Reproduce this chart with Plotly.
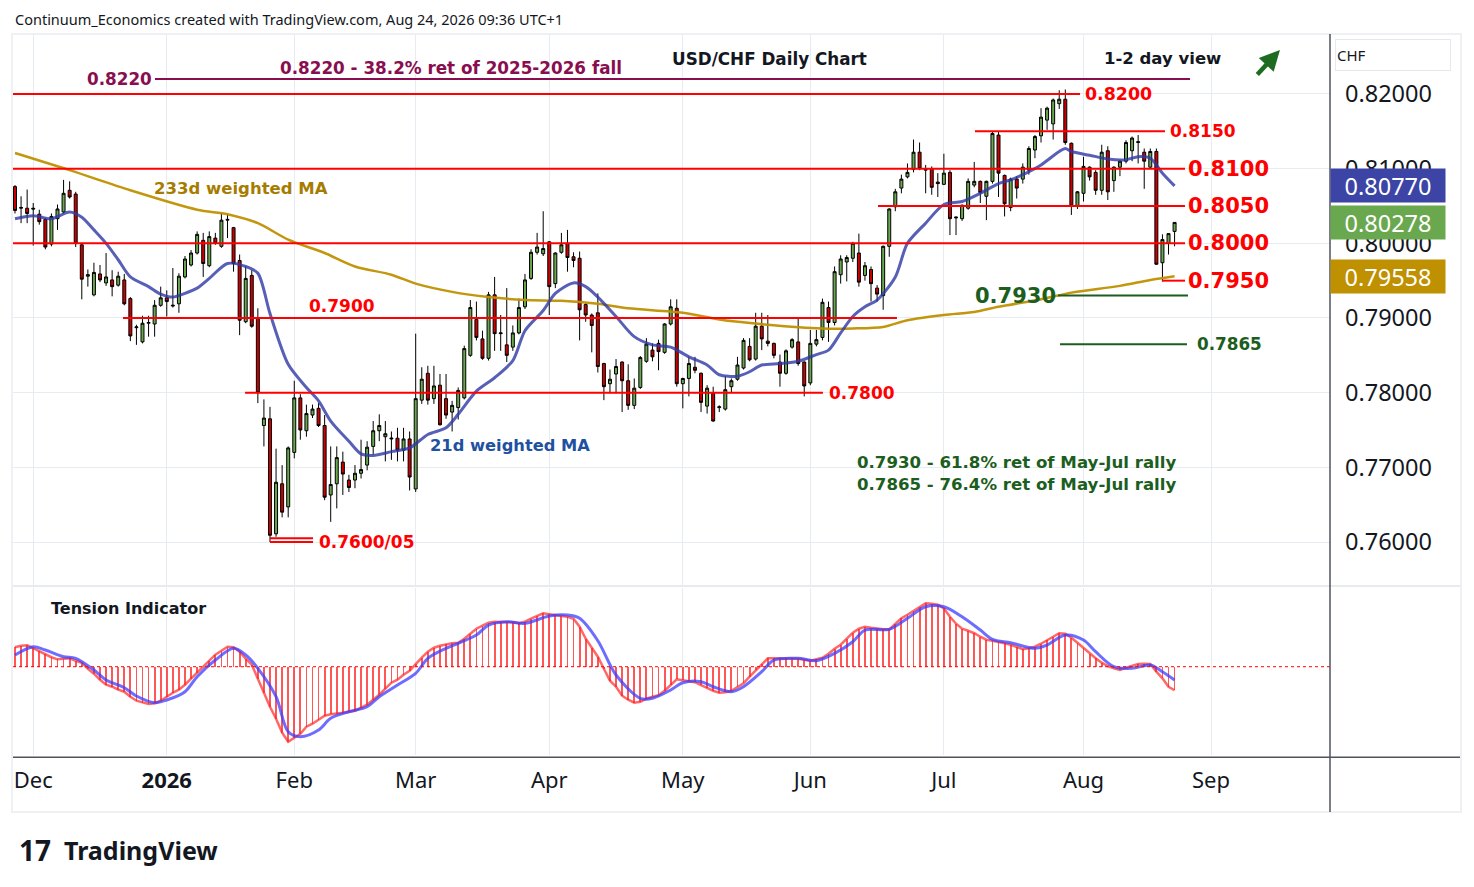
import pandas as pd
import plotly.graph_objects as go

# === Data ===
HOLIDAYS = ["2025-12-25", "2026-01-01"]

OPEN = [
    .8076, .8047, .8047, .8047, .8039, .8032, .7999, .8033, .8042, .8071,
    .8066, .7998, .7956, .7931, .7959, .7947, .7951, .7944, .7951, .7926,
    .7887, .7868, .7893, .7892, .7917, .7927, .7916, .7919, .7955, .7971,
    .7987, .8004, .7970, .8007, .7996, .8031, .8021, .7977, .7895, .7957,
    .7900, .7756, .7765, .7611, .7678, .7647, .7720, .7793, .7749, .7770,
    .7779, .7756, .7663, .7678, .7707, .7683, .7683, .7692, .7703, .7728,
    .7749, .7741, .7738, .7739, .7723, .7738, .7671, .7790, .7826, .7792,
    .7810, .7792, .7774, .7780, .7793, .7850, .7898, .7872, .7846, .7931,
    .7879, .7864, .7861, .7880, .7915, .7953, .7988, .7986, .8002, .7946,
    .7988, .8000, .7982, .7980, .7918, .7904, .7907, .7839, .7812, .7825,
    .7841, .7816, .7783, .7807, .7842, .7857, .7866, .7854, .7892, .7913,
    .7812, .7819, .7834, .7826, .7782, .7799, .7780, .7778, .7808, .7818,
    .7833, .7862, .7845, .7889, .7869, .7866, .7841, .7826, .7861, .7868,
    .7841, .7813, .7865, .7874, .7914, .7894, .7958, .7975, .7980, .7987,
    .7957, .7965, .7940, .7930, .7996, .8049, .8074, .8089, .8099, .8122,
    .8098, .8100, .8082, .8079, .8095, .8034, .8033, .8047, .8078, .8083,
    .8063, .8083, .8145, .8091, .8048, .8086, .8086, .8098, .8125, .8144,
    .8165, .8160, .8187, .8193, .8134, .8050, .8067, .8102, .8095, .8071,
    .8124, .8084, .8102, .8110, .8124, .8135, .8122, .8102, .8123, .7974,
    .8000, .8016,
]
HIGH = [
    .8078, .8063, .8072, .8054, .8045, .8034, .8040, .8052, .8085, .8083,
    .8069, .8000, .7965, .7974, .7971, .7987, .7964, .7962, .7959, .7928,
    .7891, .7903, .7903, .7924, .7942, .7937, .7967, .7960, .7983, .7991,
    .8016, .8014, .8016, .8014, .8041, .8039, .8022, .7985, .7969, .7964,
    .7913, .7791, .7781, .7725, .7703, .7728, .7816, .7798, .7784, .7784,
    .7786, .7770, .7728, .7728, .7721, .7690, .7703, .7737, .7735, .7762,
    .7771, .7762, .7748, .7753, .7753, .7748, .7879, .7834, .7836, .7836,
    .7825, .7825, .7789, .7807, .7863, .7924, .7922, .7883, .7935, .7955,
    .7904, .7940, .7890, .7926, .7959, .7992, .8014, .8043, .8003, .7988,
    .8014, .8018, .7988, .7989, .7920, .7906, .7933, .7840, .7831, .7845,
    .7842, .7838, .7819, .7849, .7873, .7866, .7871, .7893, .7925, .7925,
    .7820, .7848, .7848, .7827, .7810, .7808, .7783, .7822, .7819, .7848,
    .7873, .7873, .7907, .7907, .7904, .7867, .7851, .7858, .7873, .7899,
    .7842, .7884, .7884, .7926, .7922, .7969, .7984, .7984, .8002, .8013,
    .7975, .7969, .7944, .7997, .8047, .8073, .8092, .8107, .8139, .8135,
    .8105, .8103, .8094, .8120, .8098, .8036, .8052, .8087, .8109, .8084,
    .8084, .8150, .8150, .8092, .8088, .8090, .8107, .8130, .8145, .8181,
    .8183, .8194, .8205, .8206, .8135, .8070, .8116, .8103, .8098, .8132,
    .8130, .8103, .8111, .8138, .8143, .8145, .8127, .8127, .8127, .8012,
    .8013, .8028,
]
LOW = [
    .8040, .8027, .8027, .7997, .8025, .7992, .7996, .8018, .8040, .8060,
    .7995, .7925, .7942, .7929, .7948, .7943, .7929, .7942, .7917, .7869,
    .7864, .7866, .7875, .7875, .7915, .7902, .7914, .7907, .7953, .7969,
    .7985, .7955, .7968, .7998, .7994, .8007, .7962, .7877, .7893, .7887,
    .7786, .7728, .7600, .7607, .7633, .7633, .7712, .7737, .7741, .7766,
    .7754, .7656, .7627, .7645, .7663, .7667, .7672, .7685, .7696, .7717,
    .7735, .7708, .7710, .7708, .7708, .7669, .7667, .7785, .7784, .7785,
    .7756, .7765, .7748, .7764, .7791, .7848, .7870, .7844, .7843, .7856,
    .7856, .7841, .7856, .7878, .7912, .7951, .7985, .7983, .7904, .7940,
    .7986, .7962, .7968, .7870, .7895, .7854, .7827, .7790, .7799, .7799,
    .7774, .7777, .7778, .7805, .7840, .7842, .7830, .7852, .7890, .7808,
    .7779, .7795, .7826, .7774, .7772, .7761, .7774, .7776, .7800, .7816,
    .7831, .7842, .7843, .7857, .7862, .7846, .7808, .7824, .7859, .7836,
    .7795, .7810, .7862, .7870, .7868, .7890, .7946, .7949, .7975, .7942,
    .7950, .7922, .7922, .7911, .7982, .8043, .8067, .8087, .8095, .8098,
    .8067, .8065, .8062, .8078, .8011, .8011, .8030, .8045, .8075, .8054,
    .8031, .8080, .8062, .8036, .8043, .8060, .8080, .8092, .8114, .8135,
    .8152, .8139, .8180, .8132, .8038, .8046, .8056, .8084, .8065, .8065,
    .8058, .8069, .8090, .8107, .8110, .8107, .8073, .8101, .7971, .7949,
    .7985, .7996,
]
CLOSE = [
    .8044, .8048, .8040, .8046, .8029, .7995, .8036, .8046, .8067, .8062,
    .8000, .7952, .7958, .7961, .7951, .7955, .7942, .7956, .7919, .7876,
    .7888, .7893, .7894, .7917, .7927, .7922, .7917, .7956, .7979, .7987,
    .8012, .7973, .8009, .8000, .8031, .8032, .7973, .7897, .7953, .7889,
    .7800, .7766, .7609, .7680, .7640, .7726, .7793, .7750, .7772, .7778,
    .7756, .7660, .7677, .7713, .7691, .7673, .7692, .7697, .7727, .7749,
    .7756, .7745, .7739, .7723, .7738, .7687, .7792, .7818, .7790, .7809,
    .7757, .7770, .7783, .7803, .7859, .7914, .7874, .7846, .7931, .7879,
    .7880, .7850, .7880, .7914, .7951, .7988, .7995, .7993, .7942, .7987,
    .7998, .7981, .7977, .7911, .7904, .7890, .7835, .7808, .7818, .7835,
    .7816, .7783, .7806, .7847, .7865, .7848, .7855, .7892, .7915, .7812,
    .7819, .7839, .7830, .7787, .7806, .7762, .7781, .7804, .7816, .7837,
    .7870, .7844, .7889, .7872, .7866, .7850, .7826, .7856, .7871, .7839,
    .7809, .7866, .7871, .7921, .7894, .7962, .7979, .7981, .8000, .7948,
    .7970, .7946, .7932, .7996, .8046, .8069, .8086, .8095, .8122, .8100,
    .8099, .8075, .8080, .8094, .8033, .8035, .8051, .8083, .8083, .8068,
    .8083, .8147, .8094, .8053, .8086, .8074, .8102, .8127, .8143, .8169,
    .8181, .8192, .8193, .8135, .8050, .8069, .8103, .8089, .8071, .8122,
    .8069, .8102, .8110, .8135, .8141, .8136, .8110, .8123, .7972, .8005,
    .8013, .8028,
]

# 21d weighted MA, read at bar positions
MA21_BAR = [0, 3, 6, 9, 11, 13, 15, 17, 19, 22, 24, 26, 28, 30, 32, 35, 38, 40, 42, 45,
            48, 50, 52, 55, 57, 59, 62, 65, 68, 71, 73, 76, 79, 82, 84, 87, 89, 92, 94, 96,
            99, 102, 105, 108, 111, 114, 116, 119, 121, 123, 126, 129, 132, 134, 136, 138,
            140, 142, 145, 147, 150, 153, 156, 159, 162, 164, 166, 169, 172, 173, 174, 177,
            180, 183, 185, 187, 189, 191]
MA21_VAL = [.8033, .8037, .8033, .8042, .8035, .8018, .8000, .7978, .7955, .7942, .7932, .7928,
            .7933, .7940, .7953, .7973, .7969, .7960, .7906, .7838, .7807, .7789, .7762, .7735,
            .7718, .7716, .7721, .7726, .7744, .7753, .7771, .7802, .7820, .7843, .7883, .7910,
            .7933, .7947, .7942, .7928, .7902, .7875, .7864, .7861, .7848, .7837, .7824, .7822,
            .7828, .7837, .7839, .7842, .7851, .7857, .7880, .7902, .7915, .7924, .7955, .8000,
            .8027, .8052, .8056, .8067, .8080, .8085, .8092, .8105, .8123, .8127, .8123, .8118,
            .8113, .8112, .8116, .8114, .8094, .8077]

# 233d weighted MA
MA233_BAR = [0, 9, 19, 30, 35, 40, 45, 51, 56, 62, 66, 72, 78, 84, 90, 96, 101, 110, 116,
             124, 133, 138, 143, 147, 153, 158, 162, 169, 174, 182, 187, 191]
MA233_VAL = [.8121, .8098, .8071, .8045, .8039, .8027, .8005, .7987, .7969, .7958, .7946,
             .7935, .7928, .7924, .7923, .7919, .7913, .7907, .7898, .7891, .7886, .7886,
             .7888, .7897, .7904, .7908, .7915, .7925, .7934, .7943, .7951, .7956]

# Tension indicator (one value per bar) and its signal line
TENSION = [
    1.94, 2.10, 2.15, 1.85, 1.55, 1.30, 0.95, 0.74, 0.80, 0.84,
    0.60, 0.40, -0.20, -0.70, -1.30, -1.80, -2.00, -2.30, -2.50, -3.00,
    -3.40, -3.60, -3.73, -3.65, -3.40, -3.00, -2.60, -2.30, -1.80, -1.20,
    -0.60, 0.00, 0.60, 1.20, 1.60, 2.00, 1.95, 1.50, 0.80, 0.20,
    -1.20, -2.60, -4.00, -5.20, -6.60, -7.50, -7.10, -6.70, -6.00, -5.70,
    -5.30, -4.90, -4.75, -4.70, -4.60, -4.50, -4.40, -4.10, -3.80, -3.30,
    -2.80, -2.20, -1.60, -1.30, -0.80, -0.40, 0.30, 0.90, 1.50, 1.90,
    2.10, 2.25, 2.35, 2.40, 2.80, 3.30, 3.80, 4.10, 4.40, 4.50,
    4.50, 4.50, 4.45, 4.35, 4.50, 4.80, 5.10, 5.34, 5.25, 5.15,
    5.10, 5.00, 4.80, 4.00, 2.80, 1.90, 1.00, -0.20, -1.40, -2.00,
    -2.90, -3.30, -3.60, -3.50, -3.20, -3.00, -2.85, -2.40, -1.80, -1.26,
    -1.35, -1.45, -1.55, -1.85, -2.15, -2.40, -2.60, -2.55, -2.40, -2.00,
    -1.65, -1.00, -0.35, 0.30, 0.84, 0.85, 0.84, 0.85, 0.85, 0.80,
    0.70, 0.60, 0.75, 0.90, 1.30, 1.80, 2.20, 2.80, 3.40, 3.80,
    4.00, 3.90, 3.80, 3.74, 3.74, 4.30, 4.84, 5.20, 5.60, 6.00,
    6.34, 6.30, 6.20, 5.84, 5.00, 4.30, 3.80, 3.60, 3.35, 3.00,
    2.70, 2.60, 2.50, 2.35, 2.20, 2.00, 1.75, 1.85, 2.00, 2.30,
    2.67, 3.00, 3.35, 3.30, 2.90, 2.40, 1.85, 1.30, 0.85, 0.40,
    0.07, -0.15, -0.33, -0.10, 0.10, 0.27, 0.30, 0.27, -0.50, -1.16,
    -2.00, -2.35,
]
SIGNAL_BAR = [0, 3, 5, 8, 10, 13, 15, 18, 20, 23, 25, 28, 30, 33, 36, 38, 40, 43, 45, 47,
              50, 52, 55, 58, 60, 63, 66, 68, 71, 73, 76, 78, 81, 84, 88, 91, 93, 96, 99,
              103, 105, 108, 110, 113, 115, 118, 120, 123, 125, 129, 132, 135, 138, 140,
              144, 147, 150, 153, 156, 159, 161, 164, 168, 170, 173, 176, 178, 181, 184,
              187, 189, 191]
SIGNAL_VAL = [1.17, 2.0, 1.67, 1.0, 0.84, -0.33, -1.33, -2.1, -2.93, -3.6, -3.33, -2.5, -1.0,
              0.67, 1.84, 1.17, -0.16, -3.0, -6.5, -7.0, -6.33, -5.16, -4.5, -4.0, -3.0,
              -1.83, -0.66, 0.84, 1.84, 2.34, 3.17, 4.17, 4.5, 4.34, 5.07, 5.17, 4.84, 2.6,
              -0.83, -3.16, -3.16, -2.33, -1.6, -1.5, -2.0, -2.5, -2.0, -0.5, 0.67, 0.84,
              0.6, 1.34, 2.5, 3.67, 3.74, 4.84, 6.0, 6.0, 5.0, 3.67, 2.74, 2.4, 1.84, 2.17,
              3.17, 2.67, 1.5, 0.0, -0.16, 0.17, -0.5, -1.33]

PRICE_TICKS = [0.76, 0.77, 0.78, 0.79, 0.80, 0.81, 0.82]
MONTH_TICKS = ["2025-12-01", "2026-01-02", "2026-02-02", "2026-03-02", "2026-04-01",
               "2026-05-01", "2026-06-01", "2026-07-01", "2026-08-03", "2026-09-01"]
MONTH_LABELS = ["Dec", "<b>2026</b>", "Feb", "Mar", "Apr", "May", "Jun", "Jul", "Aug", "Sep"]

# chart levels: (price, x0, x1, colour) with x in paper fraction of the plot width
LEVELS = [
    (0.8220, 0.1078, 0.8937, "#880e4f"),
    (0.8200, 0.0, 0.8102, "#ff0000"),
    (0.8150, 0.7304, 0.8747, "#ff0000"),
    (0.8100, 0.0, 0.8899, "#ff0000"),
    (0.8050, 0.6568, 0.8899, "#ff0000"),
    (0.8000, 0.0, 0.8899, "#ff0000"),
    (0.7950, 0.8724, 0.8899, "#ff0000"),
    (0.7900, 0.0835, 0.6712, "#ff0000"),
    (0.7800, 0.1762, 0.6150, "#ff0000"),
    (0.7605, 0.1951, 0.2278, "#ff0000"),
    (0.7600, 0.1951, 0.2278, "#ff0000"),
    (0.7930, 0.7935, 0.8922, "#1b5e20"),
    (0.7865, 0.7950, 0.8914, "#1b5e20"),
]

LAST_MA21 = 0.80770
LAST_CLOSE = 0.80278
LAST_MA233 = 0.79558

# === Axis dates: trading days, holidays dropped ===
days = pd.bdate_range("2025-11-26", "2026-09-30")
days = days[~days.isin(pd.to_datetime(HOLIDAYS))]
AXIS_DATES = [d.strftime("%Y-%m-%d") for d in days]
DATES = AXIS_DATES[:len(CLOSE)]

FONT = "Noto Sans"
LABEL_FONT = "DejaVu Sans"
TXT = "#131722"
GRID = "#e7ecf3"

fig = go.Figure()

fig.add_trace(go.Candlestick(
    x=DATES, open=OPEN, high=HIGH, low=LOW, close=CLOSE,
    increasing=dict(fillcolor="#6aa84f", line=dict(color="#000000", width=1)),
    decreasing=dict(fillcolor="#cc0000", line=dict(color="#000000", width=1)),
    whiskerwidth=0, xaxis="x", yaxis="y", showlegend=False, hoverinfo="skip",
))

fig.add_trace(go.Scatter(
    x=[DATES[i] for i in MA233_BAR], y=MA233_VAL, mode="lines",
    line=dict(color="rgba(191,144,0,0.95)", width=2.5, shape="spline", smoothing=0.8),
    xaxis="x", yaxis="y", showlegend=False, hoverinfo="skip",
))
fig.add_trace(go.Scatter(
    x=[DATES[i] for i in MA21_BAR], y=MA21_VAL, mode="lines",
    line=dict(color="rgba(45,55,165,0.8)", width=3, shape="spline", smoothing=0.8),
    xaxis="x", yaxis="y", showlegend=False, hoverinfo="skip",
))

# tension indicator
fig.add_trace(go.Bar(
    x=DATES, y=TENSION, width=0.3, marker=dict(color="rgba(255,30,30,0.75)", line=dict(width=0)),
    xaxis="x2", yaxis="y2", showlegend=False, hoverinfo="skip",
))
fig.add_trace(go.Scatter(
    x=DATES, y=TENSION, mode="lines",
    line=dict(color="rgba(255,40,40,0.7)", width=2.5),
    xaxis="x2", yaxis="y2", showlegend=False, hoverinfo="skip",
))
fig.add_trace(go.Scatter(
    x=[DATES[i] for i in SIGNAL_BAR], y=SIGNAL_VAL, mode="lines",
    line=dict(color="rgba(60,60,255,0.75)", width=3, shape="spline", smoothing=0.9),
    xaxis="x2", yaxis="y2", showlegend=False, hoverinfo="skip",
))

shapes = []
for price, x0, x1, col in LEVELS:
    shapes.append(dict(type="line", xref="paper", yref="y", x0=x0, x1=x1, y0=price, y1=price,
                       line=dict(color=col, width=2)))
# zero line of the tension indicator
shapes.append(dict(type="line", xref="paper", yref="y2", x0=0, x1=1, y0=0, y1=0,
                   line=dict(color="#ff0000", width=1, dash="dot")))
# frame
shapes += [
    dict(type="rect", xref="paper", yref="paper", x0=-0.0008, x1=1.0995, y0=-0.0792, y1=1.0014,
         line=dict(color="#eef0f4", width=2)),
    dict(type="line", xref="paper", yref="paper", x0=0, x1=1.0987, y0=0.2347, y1=0.2347,
         line=dict(color="#e0e3eb", width=1.5)),
    dict(type="line", xref="paper", yref="paper", x0=0, x1=1.0987, y0=-0.003, y1=-0.003,
         line=dict(color="#50535e", width=1.5)),
    dict(type="line", xref="paper", yref="paper", x0=1.0, x1=1.0, y0=-0.0792, y1=1.0014,
         line=dict(color="#50535e", width=1.5)),
]


def label(text, x, y, color, size, bold=True, yref="y", yshift=0, family=LABEL_FONT):
    return dict(text=f"<b>{text}</b>" if bold else text, x=x, y=y, xref="paper", yref=yref,
                xanchor="left", yanchor="middle", yshift=yshift, showarrow=False,
                align="left", font=dict(family=family, size=size, color=color))


RED = "#ff0000"
GREEN = "#1b5e20"
MAROON = "#880e4f"
annotations = [
    label("Continuum_Economics created with TradingView.com, Aug 24, 2026 09:36 UTC+1",
          0.0, 1.0222, TXT, 14.5, bold=False, yref="paper", family=FONT),
    label("USD/CHF Daily Chart", 0.4989, 0.82469, TXT, 16.8),
    label("1-2 day view", 0.8269, 0.82469, TXT, 16.5),
    label("0.8220", 0.0547, 0.8220, MAROON, 16.8),
    label("0.8220 - 38.2% ret of 2025-2026 fall", 0.2012, 0.8220, MAROON, 16.8, yshift=11),
    label("0.8200", 0.8125, 0.8200, RED, 17.4),
    label("0.8150", 0.8770, 0.8150, RED, 17),
    label("0.8100", 0.8907, 0.8100, RED, 21),
    label("0.8050", 0.8907, 0.8050, RED, 21),
    label("0.8000", 0.8907, 0.8000, RED, 21),
    label("0.7950", 0.8907, 0.7950, RED, 21),
    label("0.7900", 0.2232, 0.7900, RED, 17, yshift=12),
    label("0.7800", 0.6181, 0.7800, RED, 17),
    label("0.7600/05", 0.2308, 0.7600, RED, 17),
    label("0.7930", 0.7289, 0.7930, GREEN, 21),
    label("0.7865", 0.8975, 0.7865, GREEN, 16.8),
    label("233d weighted MA", 0.1055, 0.80728, "#a67c00", 16.5),
    label("21d weighted MA", 0.3151, 0.77299, "#2150a0", 16.3),
    label("0.7930 - 61.8% ret of May-Jul rally<br>0.7865 - 76.4% ret of May-Jul rally",
          0.6393, 0.76911, GREEN, 16.6),
    label("Tension Indicator", 0.0273, 5.87, TXT, 16, yref="y2"),
    label("17", 0.003, -0.1319, TXT, 28, yref="paper", family=FONT),
    label("TradingView", 0.0372, -0.1319, TXT, 25, yref="paper", family=FONT),
    dict(text="", x=0.962, y=0.9792, xref="paper", yref="paper", showarrow=True,
         ax=-24, ay=26, arrowhead=2, arrowsize=0.9, arrowwidth=4.5, arrowcolor="#1e6b22"),
    dict(text="CHF", x=1.0038, y=0.9722, xref="paper", yref="paper", xanchor="left",
         yanchor="middle", showarrow=False, width=112, height=28, align="left",
         bordercolor="#e6e8ee", borderwidth=1, bgcolor="#ffffff",
         font=dict(family=FONT, size=15, color=TXT)),
]
for val, col in [(LAST_MA21, "#3c44a5"), (LAST_CLOSE, "#6aa84f"), (LAST_MA233, "#bf9000")]:
    annotations.append(dict(text=f"{val:.5f}", x=1.0, y=val, xref="paper", yref="y",
                            xanchor="left", yanchor="middle", showarrow=False,
                            width=112, height=31, bgcolor=col, align="center",
                            font=dict(family=FONT, size=23.5, color="#ffffff")))

axis_common = dict(type="category", categoryorder="array", categoryarray=AXIS_DATES,
                   range=[-0.33, 216.6], tickvals=MONTH_TICKS, showgrid=True,
                   gridcolor=GRID, gridwidth=1, zeroline=False, showline=False,
                   fixedrange=True)

# the page adds an 8px body margin, so the figure is 8px smaller than the window
fig.update_layout(
    width=1466, height=879,
    margin=dict(l=5, r=144, t=27, b=132),
    paper_bgcolor="#ffffff", plot_bgcolor="#ffffff",
    font=dict(family=FONT, color=TXT),
    showlegend=False,
    bargap=0,
    xaxis=dict(axis_common, anchor="y", showticklabels=False,
               rangeslider=dict(visible=False)),
    xaxis2=dict(axis_common, anchor="y2", showticklabels=True, ticktext=MONTH_LABELS,
                tickfont=dict(family=FONT, size=22, color=TXT), ticklabelstandoff=10),
    yaxis=dict(domain=[0.2361, 1.0], anchor="x", side="right",
               range=[0.75424, 0.8279], tickvals=PRICE_TICKS,
               ticktext=[f"{v:.5f}" for v in PRICE_TICKS],
               tickfont=dict(family=FONT, size=23.5, color=TXT), ticklabelstandoff=14,
               showgrid=True, gridcolor=GRID, zeroline=False, showline=False),
    yaxis2=dict(domain=[0.0, 0.2319], anchor="x2", range=[-8.83, 7.87],
                showticklabels=False, showgrid=False, zeroline=False, showline=False),
    shapes=shapes,
    annotations=annotations,
)

fig.write_html("out.html")
